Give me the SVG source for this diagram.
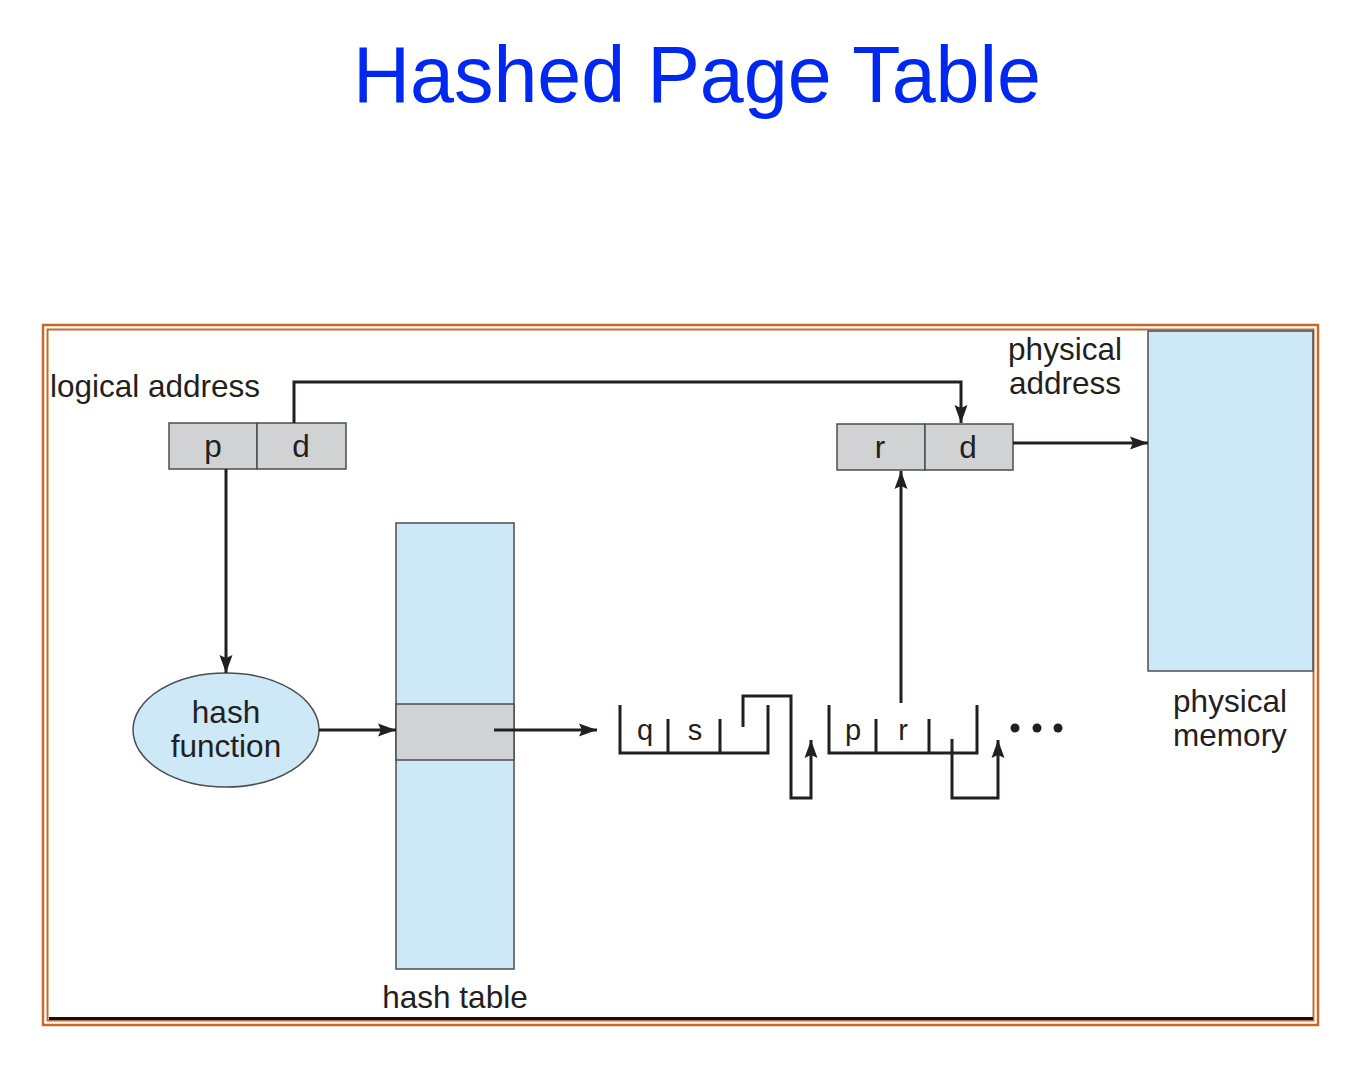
<svg xmlns="http://www.w3.org/2000/svg" width="1368" height="1082" viewBox="0 0 1368 1082">
<defs>
<style>
.lbl{font-family:"Liberation Sans",Arial,sans-serif;font-size:31.5px;fill:#231f20}
.cell{font-family:"Liberation Sans",Arial,sans-serif;font-size:31.5px;fill:#231f20;text-anchor:middle}
.small{font-family:"Liberation Sans",Arial,sans-serif;font-size:29px;fill:#231f20;text-anchor:middle}
.box{fill:#d1d2d4;stroke:#4d4d4f;stroke-width:1.5}
.blue{fill:#cde8f7;stroke:#4d4d4f;stroke-width:1.5}
.conn{fill:none;stroke:#231f20;stroke-width:3}
.chain{fill:none;stroke:#231f20;stroke-width:3}
</style>
<marker id="arr" markerUnits="userSpaceOnUse" markerWidth="20" markerHeight="16" refX="18" refY="8" orient="auto">
<path d="M0,1.5 L18,8 L0,14.5 L3,8 z" fill="#231f20"/>
</marker>
</defs>
<rect width="1368" height="1082" fill="#ffffff"/>
<text x="697" y="102" text-anchor="middle" font-family="'Liberation Sans',Arial,sans-serif" font-size="79" fill="#0028f0">Hashed Page Table</text>
<g id="frame">
<rect x="43" y="325" width="1275" height="700" fill="none" stroke="#c8692a" stroke-width="2.5"/>
<rect x="47.5" y="329.5" width="1266" height="691" fill="none" stroke="#c8692a" stroke-width="2"/>
<line x1="49" y1="1018.5" x2="1313" y2="1018.5" stroke="#111" stroke-width="3"/>
</g>
<g id="logical-address">
<text class="lbl" x="50" y="397">logical address</text>
<rect class="box" x="169" y="423" width="88" height="46"/>
<rect class="box" x="257" y="423" width="89" height="46"/>
<text class="cell" x="213" y="457">p</text>
<text class="cell" x="301" y="457">d</text>
</g>
<g id="physical-address">
<text class="lbl" x="1065" y="360" text-anchor="middle">physical</text>
<text class="lbl" x="1065" y="394" text-anchor="middle">address</text>
<rect class="box" x="837" y="424" width="88" height="46"/>
<rect class="box" x="925" y="424" width="88" height="46"/>
<text class="cell" x="880" y="458">r</text>
<text class="cell" x="968" y="458">d</text>
</g>
<g id="physical-memory">
<rect class="blue" x="1148" y="331" width="165" height="340"/>
<text class="lbl" x="1230" y="712" text-anchor="middle">physical</text>
<text class="lbl" x="1230" y="746" text-anchor="middle">memory</text>
</g>
<g id="hash-function">
<ellipse cx="226" cy="730" rx="93" ry="57" fill="#cde8f7" stroke="#4d4d4f" stroke-width="1.5"/>
<text class="cell" x="226" y="723">hash</text>
<text class="cell" x="226" y="757">function</text>
</g>
<g id="hash-table">
<rect class="blue" x="396" y="523" width="118" height="446"/>
<rect class="box" x="396" y="704" width="118" height="56"/>
<text class="cell" x="455" y="1008">hash table</text>
</g>
<g id="chain-entry-1">
<path class="chain" d="M620,705 V753 H768 V705 M668,719 V753 M720,719 V753"/>
<text class="small" x="645" y="740">q</text>
<text class="small" x="695" y="740">s</text>
</g>
<g id="chain-entry-2">
<path class="chain" d="M829,705 V753 H977 V705 M876,719 V753 M929,719 V753"/>
<text class="small" x="853" y="740">p</text>
<text class="small" x="903" y="740">r</text>
</g>
<g id="ellipsis">
<circle cx="1015" cy="728" r="4.5" fill="#231f20"/>
<circle cx="1037" cy="728" r="4.5" fill="#231f20"/>
<circle cx="1058" cy="728" r="4.5" fill="#231f20"/>
</g>
<g id="connectors">
<path class="conn" d="M294,423 V382 H961 V423" marker-end="url(#arr)"/>
<path class="conn" d="M1013,443 H1148" marker-end="url(#arr)"/>
<path class="conn" d="M226,469 V673" marker-end="url(#arr)"/>
<path class="conn" d="M319,730 H396" marker-end="url(#arr)"/>
<path class="conn" d="M494,730 H597" marker-end="url(#arr)"/>
<path class="conn" d="M743,727 V696 H791 V798 H811 V740" marker-end="url(#arr)"/>
<path class="conn" d="M952,739 V798 H998 V740" marker-end="url(#arr)"/>
<path class="conn" d="M901,703 V471" marker-end="url(#arr)"/>
</g>
</svg>
